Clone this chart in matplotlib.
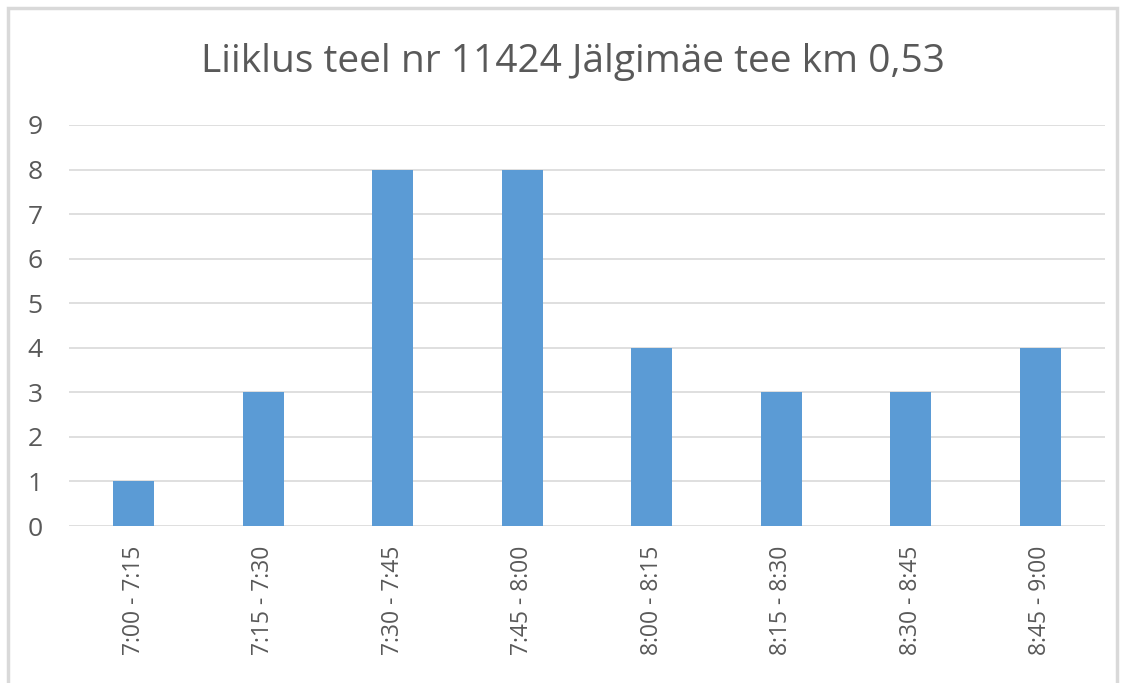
import matplotlib.pyplot as plt
from matplotlib.patches import Rectangle

categories = ['7:00 - 7:15', '7:15 - 7:30', '7:30 - 7:45', '7:45 - 8:00',
              '8:00 - 8:15', '8:15 - 8:30', '8:30 - 8:45', '8:45 - 9:00']
counts = [1, 3, 8, 8, 4, 3, 3, 4]
yticks = list(range(0, 10))

text_color = '#595959'
plt.rcParams['font.family'] = ['Open Sans', 'DejaVu Sans']

fig = plt.figure(figsize=(11.25, 6.83), dpi=100)
ax = fig.add_axes([69 / 1125, 1 - 526 / 683, (1105 - 69) / 1125, (526 - 125) / 683])

# chart border like excel
fig.patches.append(Rectangle((8 / 1125, -0.05), (1117 - 8) / 1125, 1.05 - 8 / 683,
                             transform=fig.transFigure, fill=False,
                             edgecolor='#D9D9D9', linewidth=2.5))

x = range(len(categories))
ax.bar(x, counts, width=0.32, color='#5B9BD5', zorder=3)

ax.set_xlim(-0.5, len(categories) - 0.5)
ax.set_ylim(0, 9)
ax.set_yticks(yticks)
ax.set_xticks(list(x))
ax.set_xticklabels(categories, rotation=90)
ax.tick_params(axis='both', length=0, colors=text_color)
ax.tick_params(axis='y', pad=19, labelsize=19)
ax.tick_params(axis='x', pad=14, labelsize=16.5)
ax.grid(axis='y', color='#D9D9D9', linewidth=1.2, zorder=0)
for s in ax.spines.values():
    s.set_visible(False)

fig.text(0.509, 1 - 62 / 683, 'Liiklus teel nr 11424 Jälgimäe tee km 0,53',
         ha='center', va='center', fontsize=28, color=text_color)

plt.savefig('out.png', dpi=100)
